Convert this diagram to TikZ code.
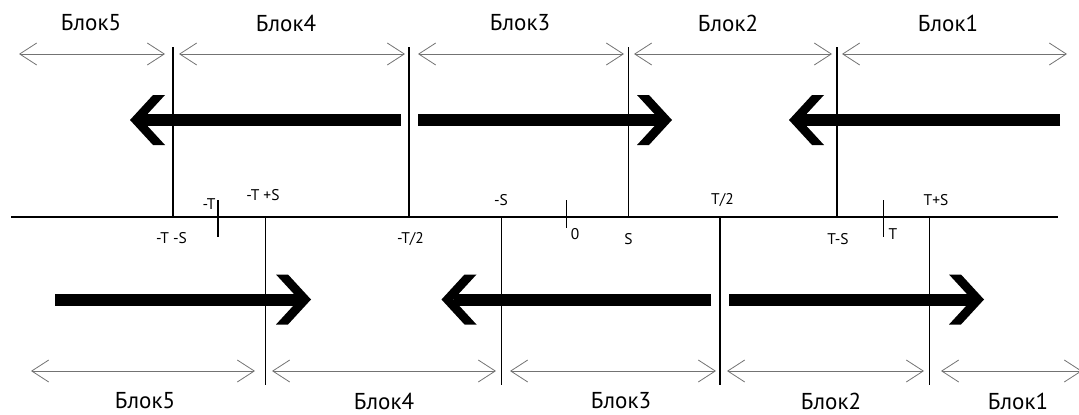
\documentclass[tikz,border=0pt]{standalone}
\usepackage{fontspec}
\setmainfont{PT Sans}
\usetikzlibrary{arrows.meta}
\begin{document}
\begin{tikzpicture}[x=1pt,y=-1pt,
  blocklabel/.style={font=\fontsize{23}{26}\selectfont, inner sep=0pt},
  ticklabel/.style={font=\fontsize{15.5}{18}\selectfont, inner sep=0pt},
  barb/.tip={Straight Barb[length=17pt,width=22pt]},
  span/.style={draw=black!55, line width=0.8pt, barb-barb},
  divider/.style={draw=black, line width=1.1pt},
  axisline/.style={draw=black, line width=1.4pt},
  tickmark/.style={draw=black, line width=1.1pt},
  shaft/.style={line width=12pt},
  headR/.pic={\fill (0,0) -- (-23,-25) -- (-35,-25) -- (-12,0) -- (-35,25) -- (-23,25) -- cycle;},
]
\useasboundingbox (0,0) rectangle (1079,415);

% ---------- upper row of blocks ----------
\node[blocklabel] (tl5) at (91,23)  {Блок5};
\node[blocklabel] (tl4) at (286,23) {Блок4};
\node[blocklabel] (tl3) at (520,23) {Блок3};
\node[blocklabel] (tl2) at (728,23) {Блок2};
\node[blocklabel] (tl1) at (948,23) {Блок1};

\coordinate (ts5a) at (19,54);   \coordinate (ts5b) at (165,54);
\coordinate (ts4a) at (179,54);  \coordinate (ts4b) at (405,54);
\coordinate (ts3a) at (418,54);  \coordinate (ts3b) at (624,54);
\coordinate (ts2a) at (634,54);  \coordinate (ts2b) at (832,54);
\coordinate (ts1a) at (842,54);  \coordinate (ts1b) at (1067,54);
\draw[span] (ts5a) -- (ts5b);
\draw[span] (ts4a) -- (ts4b);
\draw[span] (ts3a) -- (ts3b);
\draw[span] (ts2a) -- (ts2b);
\draw[span] (ts1a) -- (ts1b);

% upper dividers, from the top down to the axis
\foreach \n/\x in {a/173, b/409, c/628.5, d/837}{
  \coordinate (up\n) at (\x,47);
  \coordinate (ua\n) at (\x,217);
  \draw[divider] (up\n) -- (ua\n);
}

% ---------- time axis ----------
\coordinate (axL) at (11,217);
\coordinate (axR) at (1058,217);
\draw[axisline] (axL) -- (axR);

% short ticks at -T, 0 and T
\coordinate (tkA1) at (218,200);   \coordinate (tkA2) at (218,237);
\coordinate (tkB1) at (566.5,200); \coordinate (tkB2) at (566.5,228);
\coordinate (tkC1) at (883.5,200); \coordinate (tkC2) at (883.5,237);
\draw[tickmark] (tkA1) -- (tkA2);
\draw[tickmark] (tkB1) -- (tkB2);
\draw[tickmark] (tkC1) -- (tkC2);

% axis labels
\node[ticklabel] (lTmS)  at (171.5,238) {-T -S};
\node[ticklabel] (lmT)   at (209,204)   {-T};
\node[ticklabel] (lTpS)  at (263,195)   {-T +S};
\node[ticklabel] (lmT2)  at (410.5,239) {-T/2};
\node[ticklabel] (lmS)   at (501,200)   {-S};
\node[ticklabel] (lzero) at (575,234)   {0};
\node[ticklabel] (lS)    at (628.5,239) {S};
\node[ticklabel] (lT2)   at (722.5,200) {T/2};
\node[ticklabel] (lTS)   at (838,239)   {T-S};
\node[ticklabel] (lT)    at (893,234)   {T};
\node[ticklabel] (lTpS2) at (936,200)   {T+S};

% lower dividers, from the axis downwards
\foreach \n/\x in {a/265.5, b/501.5, c/720, d/929.5}{
  \coordinate (la\n) at (\x,217);
  \coordinate (lo\n) at (\x,385);
  \draw[divider] (la\n) -- (lo\n);
}

% ---------- thick direction arrows ----------
% upper row
\coordinate (uA0) at (400.5,120); \coordinate (uA1) at (130,120);
\coordinate (uB0) at (418,120);   \coordinate (uB1) at (672,120);
\coordinate (uC0) at (1060,120);  \coordinate (uC1) at (789,120);
\draw[shaft] (uA0) -- ([xshift=12pt]uA1);  \pic[xscale=-1] at (uA1) {headR};
\draw[shaft] (uB0) -- ([xshift=-12pt]uB1); \pic at (uB1) {headR};
\draw[shaft] (uC0) -- ([xshift=12pt]uC1);  \pic[xscale=-1] at (uC1) {headR};

% lower row
\coordinate (lA0) at (55,299.5);  \coordinate (lA1) at (311,299.5);
\coordinate (lB0) at (711,299.5); \coordinate (lB1) at (441.5,299.5);
\coordinate (lC0) at (729,299.5); \coordinate (lC1) at (984,299.5);
\draw[shaft] (lA0) -- ([xshift=-12pt]lA1); \pic at (lA1) {headR};
\draw[shaft] (lB0) -- ([xshift=12pt]lB1);  \pic[xscale=-1] at (lB1) {headR};
\draw[shaft] (lC0) -- ([xshift=-12pt]lC1); \pic at (lC1) {headR};

% ---------- lower row of blocks ----------
\coordinate (bs5a) at (31,371);   \coordinate (bs5b) at (255,371);
\coordinate (bs4a) at (272,371);  \coordinate (bs4b) at (496,371);
\coordinate (bs3a) at (510,371);  \coordinate (bs3b) at (716,371);
\coordinate (bs2a) at (727,371);  \coordinate (bs2b) at (924,371);
\coordinate (bs1a) at (941,371);  \coordinate (bs1b) at (1082,371);
\draw[span] (bs5a) -- (bs5b);
\draw[span] (bs4a) -- (bs4b);
\draw[span] (bs3a) -- (bs3b);
\draw[span] (bs2a) -- (bs2b);
\draw[span] (bs1a) -- (bs1b);

\node[blocklabel] (bl5) at (145,401)  {Блок5};
\node[blocklabel] (bl4) at (384,401)  {Блок4};
\node[blocklabel] (bl3) at (621,401)  {Блок3};
\node[blocklabel] (bl2) at (831,401)  {Блок2};
\node[blocklabel] (bl1) at (1018,401) {Блок1};
\end{tikzpicture}
\end{document}
